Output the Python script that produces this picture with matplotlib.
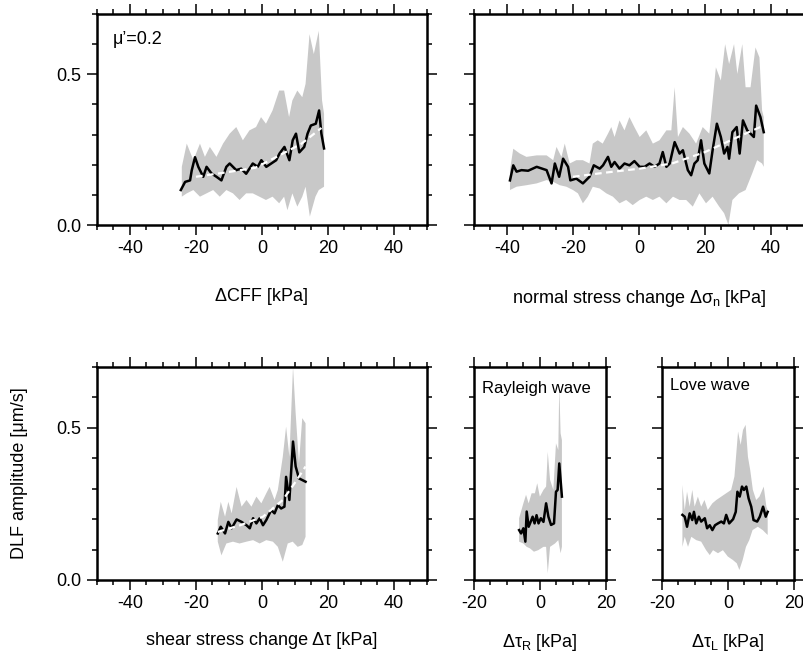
import numpy as np
import matplotlib
matplotlib.use("Agg")
import matplotlib.pyplot as plt
from matplotlib.ticker import MultipleLocator

plt.rcParams['font.family'] = ['Liberation Sans', 'DejaVu Sans']
plt.rcParams['font.size'] = 13
plt.rcParams['mathtext.fontset'] = 'custom'
plt.rcParams['mathtext.rm'] = 'Liberation Sans'
plt.rcParams['mathtext.it'] = 'Liberation Sans'

# ---- Delta CFF ----
cff_x = [-24.6, -23.3, -21.8, -21.3, -20.3, -19.3, -17.8, -16.8, -15.3, -13.8, -12.3, -10.8,
         -9.8, -7.8, -6.3, -4.8, -2.8, -1.3, -0.2, 1.3, 2.8, 4.3, 5.3, 6.8, 8.3, 9.3, 10.3,
         11.3, 12.8, 13.8, 14.8, 16.3, 17.3, 18.0, 18.8]
cff_y = [0.116, 0.143, 0.148, 0.181, 0.225, 0.193, 0.160, 0.193, 0.171, 0.160, 0.148, 0.193,
         0.204, 0.182, 0.187, 0.170, 0.204, 0.193, 0.215, 0.193, 0.204, 0.215, 0.237, 0.259,
         0.215, 0.281, 0.303, 0.241, 0.259, 0.303, 0.330, 0.336, 0.380, 0.303, 0.254]
cff_up_x = [-24.3, -22.8, -20.8, -18.8, -17.3, -15.8, -13.8, -11.8, -9.8, -7.8, -5.8, -3.8,
            -1.8, -0.3, 1.2, 3.2, 5.2, 6.7, 8.2, 9.2, 10.7, 12.2, 13.2, 14.4, 15.7, 17.2, 18.2, 18.8]
cff_up_y = [0.193, 0.270, 0.215, 0.270, 0.226, 0.259, 0.226, 0.270, 0.303, 0.325, 0.281, 0.314,
            0.325, 0.358, 0.336, 0.380, 0.446, 0.446, 0.358, 0.413, 0.446, 0.424, 0.468, 0.633,
            0.567, 0.644, 0.413, 0.369]
cff_lo_x = [-24.3, -22.8, -20.8, -18.8, -16.8, -14.8, -12.8, -10.8, -8.8, -6.8, -4.8, -2.8,
            -0.8, 1.2, 3.2, 5.2, 6.7, 7.7, 9.2, 10.7, 12.2, 13.2, 14.5, 16.2, 17.2, 18.8]
cff_lo_y = [0.094, 0.105, 0.116, 0.094, 0.105, 0.116, 0.094, 0.116, 0.105, 0.083, 0.105, 0.105,
            0.094, 0.083, 0.094, 0.072, 0.094, 0.049, 0.105, 0.061, 0.094, 0.127, 0.028, 0.094,
            0.116, 0.127]
cff_fit_x = [-20.0, -10.0, -2.0, 6.0, 12.0, 18.0]
cff_fit_y = [0.160, 0.176, 0.190, 0.235, 0.270, 0.322]

# ---- normal stress change ----
sn_x = [-39.1, -38.1, -37.1, -35.6, -33.6, -31.0, -28.0, -26.5, -25.5, -24.2, -23.0, -21.5,
        -20.8, -19.0, -17.0, -15.0, -13.7, -11.9, -10.9, -9.4, -8.4, -7.4, -5.9, -4.4, -2.9,
        -1.4, 0.2, 1.7, 3.2, 4.7, 6.2, 7.2, 8.3, 9.3, 10.8, 12.3, 13.3, 14.8, 15.8, 16.8,
        17.8, 18.8, 19.8, 21.3, 22.3, 23.6, 24.8, 25.8, 26.8, 27.3, 28.3, 29.6, 30.5, 31.5,
        32.8, 33.8, 34.8, 35.5, 36.8, 37.8]
sn_y = [0.148, 0.198, 0.177, 0.182, 0.180, 0.193, 0.182, 0.138, 0.204, 0.160, 0.220, 0.193,
        0.148, 0.154, 0.138, 0.160, 0.198, 0.187, 0.198, 0.226, 0.193, 0.209, 0.187, 0.204,
        0.198, 0.212, 0.193, 0.193, 0.204, 0.193, 0.204, 0.242, 0.193, 0.204, 0.275, 0.237,
        0.248, 0.182, 0.165, 0.204, 0.215, 0.281, 0.204, 0.171, 0.248, 0.336, 0.292, 0.237,
        0.259, 0.220, 0.308, 0.325, 0.237, 0.347, 0.314, 0.303, 0.292, 0.396, 0.358, 0.308]
sn_up_x = [-39.1, -38.1, -36.1, -34.1, -31.0, -28.0, -26.0, -25.0, -23.5, -22.5, -21.0, -19.0,
           -17.0, -15.0, -14.0, -12.5, -11.0, -9.4, -8.4, -7.4, -5.9, -4.4, -2.9, -1.4, 0.2,
           2.2, 4.2, 6.2, 8.3, 9.8, 10.8, 11.8, 13.3, 15.3, 17.3, 19.3, 21.3, 23.3, 24.8, 26.1,
           27.3, 28.8, 29.8, 31.3, 32.3, 33.8, 35.3, 36.5, 37.3, 37.8]
sn_up_y = [0.182, 0.253, 0.237, 0.226, 0.231, 0.231, 0.215, 0.259, 0.226, 0.270, 0.204, 0.215,
           0.215, 0.204, 0.270, 0.281, 0.270, 0.303, 0.325, 0.292, 0.347, 0.314, 0.358, 0.325,
           0.292, 0.314, 0.270, 0.281, 0.314, 0.314, 0.457, 0.292, 0.325, 0.303, 0.270, 0.325,
           0.303, 0.523, 0.479, 0.600, 0.534, 0.600, 0.501, 0.600, 0.457, 0.457, 0.589, 0.556,
           0.380, 0.358]
sn_lo_x = [-39.1, -37.1, -34.1, -31.0, -28.0, -26.0, -24.0, -22.0, -20.0, -18.5, -17.0, -15.5,
           -14.0, -11.9, -9.9, -7.9, -5.9, -3.9, -1.9, 0.2, 2.2, 4.2, 6.2, 8.3, 10.3, 12.3, 14.3,
           16.3, 18.3, 20.3, 22.3, 24.3, 25.8, 27.1, 28.3, 30.3, 32.3, 34.3, 35.8, 37.3, 37.8]
sn_lo_y = [0.116, 0.127, 0.132, 0.138, 0.149, 0.143, 0.132, 0.127, 0.116, 0.105, 0.072, 0.094,
           0.127, 0.121, 0.105, 0.094, 0.072, 0.083, 0.066, 0.083, 0.094, 0.083, 0.094, 0.072,
           0.094, 0.083, 0.083, 0.061, 0.105, 0.072, 0.094, 0.061, 0.039, 0.000, 0.083, 0.105,
           0.116, 0.171, 0.215, 0.204, 0.193]
sn_fit_x = [-20.0, -10.0, 0.2, 10.0, 20.0, 30.0, 37.8]
sn_fit_y = [0.160, 0.174, 0.187, 0.204, 0.242, 0.292, 0.330]

# ---- shear stress change ----
tau_x = [-13.4, -12.5, -11.2, -10.2, -9.2, -7.7, -6.2, -4.7, -3.7, -2.7, -1.7, -0.7, 0.3,
         1.3, 2.8, 3.8, 4.8, 5.8, 6.8, 7.3, 8.3, 9.4, 10.2, 11.2, 13.2]
tau_y = [0.153, 0.175, 0.153, 0.191, 0.170, 0.199, 0.191, 0.180, 0.170, 0.203, 0.186, 0.203,
         0.180, 0.197, 0.230, 0.219, 0.246, 0.235, 0.241, 0.339, 0.263, 0.455, 0.373, 0.334, 0.323]
tau_up_x = [-13.4, -12.5, -11.2, -10.2, -9.2, -7.7, -6.2, -4.7, -3.2, -1.7, -0.2, 1.3, 2.3,
            3.8, 4.8, 6.3, 7.3, 8.3, 9.4, 10.2, 11.2, 12.2, 13.2]
tau_up_y = [0.197, 0.257, 0.208, 0.257, 0.219, 0.306, 0.241, 0.263, 0.241, 0.274, 0.252, 0.285,
            0.306, 0.263, 0.296, 0.405, 0.504, 0.405, 0.700, 0.548, 0.383, 0.532, 0.515]
tau_lo_x = [-13.4, -12.3, -10.8, -8.8, -6.8, -4.7, -2.7, -0.7, 1.3, 3.3, 4.8, 6.3, 7.8, 9.3,
            10.8, 12.2, 13.2]
tau_lo_y = [0.126, 0.081, 0.120, 0.126, 0.120, 0.126, 0.131, 0.120, 0.131, 0.126, 0.109, 0.060,
            0.120, 0.126, 0.109, 0.115, 0.142]
tau_fit_x = [-13.4, -6.6, 0.3, 6.3, 10.2, 13.2]
tau_fit_y = [0.158, 0.180, 0.208, 0.263, 0.323, 0.373]

# ---- Rayleigh wave ----
tr_x = [-6.3, -5.7, -5.0, -4.4, -4.0, -3.4, -2.8, -2.2, -1.6, -1.0, -0.4, 0.3, 1.1, 1.9, 2.6,
        3.4, 4.3, 4.9, 5.4, 5.9, 6.7]
tr_y = [0.164, 0.153, 0.170, 0.126, 0.225, 0.175, 0.191, 0.208, 0.186, 0.213, 0.186, 0.203,
        0.191, 0.252, 0.208, 0.181, 0.186, 0.290, 0.296, 0.383, 0.274]
tr_up_x = [-6.3, -5.0, -4.2, -3.4, -2.5, -1.5, -0.8, 0.0, 1.1, 1.9, 2.4, 3.1, 4.1, 4.9, 5.6,
           5.9, 6.3, 6.7]
tr_up_y = [0.203, 0.252, 0.280, 0.252, 0.285, 0.285, 0.318, 0.274, 0.296, 0.307, 0.421, 0.329,
           0.296, 0.449, 0.427, 0.640, 0.482, 0.460]
tr_lo_x = [-6.3, -5.0, -4.0, -3.0, -1.8, -0.5, 1.1, 1.9, 2.4, 3.1, 4.6, 5.6, 6.3, 6.7]
tr_lo_y = [0.126, 0.120, 0.109, 0.104, 0.093, 0.098, 0.109, 0.109, 0.022, 0.109, 0.120, 0.131,
           0.088, 0.109]

# ---- Love wave ----
tl_x = [-13.8, -13.1, -12.4, -11.6, -10.8, -10.3, -9.6, -8.8, -8.1, -7.0, -6.3, -5.5, -4.7,
        -3.9, -3.0, -2.0, -1.2, -0.5, 0.4, 1.6, 2.4, 2.9, 3.6, 4.3, 4.9, 5.6, 6.3, 7.1, 7.8,
        8.9, 9.7, 10.7, 11.5, 12.1]
tl_y = [0.214, 0.208, 0.175, 0.219, 0.197, 0.224, 0.186, 0.208, 0.192, 0.203, 0.170, 0.180,
        0.164, 0.180, 0.186, 0.192, 0.186, 0.214, 0.186, 0.200, 0.224, 0.290, 0.274, 0.307,
        0.296, 0.307, 0.268, 0.241, 0.197, 0.192, 0.208, 0.241, 0.208, 0.224]
tl_up_x = [-13.8, -13.1, -12.4, -11.6, -10.8, -10.1, -9.1, -8.1, -7.1, -6.1, -4.7, -3.5, -2.0,
           -0.5, 1.0, 2.0, 3.1, 3.9, 4.6, 5.4, 6.1, 6.8, 7.6, 8.6, 9.6, 10.9, 11.7, 12.1]
tl_up_y = [0.312, 0.230, 0.290, 0.241, 0.296, 0.241, 0.274, 0.241, 0.263, 0.230, 0.252, 0.263,
           0.274, 0.285, 0.296, 0.340, 0.488, 0.444, 0.493, 0.510, 0.405, 0.361, 0.296, 0.263,
           0.274, 0.307, 0.241, 0.230]
tl_lo_x = [-13.8, -13.1, -12.1, -11.1, -9.6, -8.1, -6.6, -5.5, -4.5, -3.0, -1.5, 0.0, 1.5, 2.7,
           3.5, 4.5, 5.5, 6.5, 7.5, 9.1, 10.6, 11.6, 12.1]
tl_lo_y = [0.109, 0.142, 0.109, 0.142, 0.131, 0.126, 0.098, 0.082, 0.098, 0.088, 0.098, 0.077,
           0.066, 0.055, 0.033, 0.066, 0.109, 0.131, 0.164, 0.175, 0.164, 0.153, 0.148]

BAND = '#c8c8c8'


def style_axes(ax, xlim, xmajor, show_ylabels):
    ax.set_xlim(*xlim)
    ax.set_ylim(0, 0.7)
    ax.xaxis.set_major_locator(MultipleLocator(xmajor))
    ax.xaxis.set_minor_locator(MultipleLocator(5))
    ax.yaxis.set_major_locator(MultipleLocator(0.5))
    ax.yaxis.set_minor_locator(MultipleLocator(0.1))
    ax.tick_params(which='both', direction='out', top=True, right=True, width=1.1,
                   labelsize=13, pad=4)
    ax.tick_params(which='major', length=7)
    ax.tick_params(which='minor', length=3.5)
    ax.tick_params(axis='y', labelleft=show_ylabels)
    ax.xaxis.set_major_formatter(plt.FuncFormatter(lambda v, p: '%d' % v))
    ax.yaxis.set_major_formatter(plt.FuncFormatter(lambda v, p: '%.1f' % v))
    for s in ax.spines.values():
        s.set_linewidth(1.8)


def draw(ax, x, y, ux, uy, lx, ly, fx=None, fy=None):
    ax.fill(np.concatenate([ux, lx[::-1]]), np.concatenate([uy, ly[::-1]]),
            color=BAND, lw=0, zorder=1)
    ax.plot(x, y, color='black', lw=1.8, zorder=3)
    if fx is not None:
        ax.plot(fx, fy, color='white', lw=1.6, ls=(0, (3, 2)), zorder=4)


fig = plt.figure(figsize=(8.04, 6.56), dpi=100)
W, H = 804, 656


def add_ax(x0, y0, x1, y1):
    return fig.add_axes([x0 / W, 1 - y1 / H, (x1 - x0) / W, (y1 - y0) / H])


ax1 = add_ax(97, 14, 427, 225)
ax2 = add_ax(474, 14, 804, 225)
ax3 = add_ax(97, 367, 427, 580)
ax4 = add_ax(474, 367, 605.7, 580)
ax5 = add_ax(662, 367, 793.7, 580)

draw(ax1, cff_x, cff_y, np.array(cff_up_x), np.array(cff_up_y), np.array(cff_lo_x),
     np.array(cff_lo_y), cff_fit_x, cff_fit_y)
draw(ax2, sn_x, sn_y, np.array(sn_up_x), np.array(sn_up_y), np.array(sn_lo_x),
     np.array(sn_lo_y), sn_fit_x, sn_fit_y)
draw(ax3, tau_x, tau_y, np.array(tau_up_x), np.array(tau_up_y), np.array(tau_lo_x),
     np.array(tau_lo_y), tau_fit_x, tau_fit_y)
draw(ax4, tr_x, tr_y, np.array(tr_up_x), np.array(tr_up_y), np.array(tr_lo_x), np.array(tr_lo_y))
draw(ax5, tl_x, tl_y, np.array(tl_up_x), np.array(tl_up_y), np.array(tl_lo_x), np.array(tl_lo_y))

style_axes(ax1, (-50, 50), 20, True)
style_axes(ax2, (-50, 50), 20, False)
style_axes(ax3, (-50, 50), 20, True)
style_axes(ax4, (-20, 20), 20, False)
style_axes(ax5, (-20, 20), 20, False)
ax2.spines['right'].set_visible(False)

ax1.set_xlabel('ΔCFF [kPa]', fontsize=13, labelpad=22)
ax2.set_xlabel('normal stress change Δσ$_\\mathrm{n}$ [kPa]', fontsize=13, labelpad=22)
ax3.set_xlabel('shear stress change Δτ [kPa]', fontsize=13, labelpad=14)
ax4.set_xlabel('Δτ$_\\mathrm{R}$ [kPa]', fontsize=13, labelpad=14)
ax5.set_xlabel('Δτ$_\\mathrm{L}$ [kPa]', fontsize=13, labelpad=14)

ax1.text(0.048, 0.877, 'μ’=0.2', transform=ax1.transAxes, ha='left', va='center', fontsize=13)
ax4.text(0.058, 0.90, 'Rayleigh wave', transform=ax4.transAxes, ha='left', va='center',
         fontsize=12)
ax5.text(0.06, 0.915, 'Love wave', transform=ax5.transAxes, ha='left', va='center', fontsize=12)

fig.text(20 / W, 1 - 473 / H, 'DLF amplitude [μm/s]', rotation=90, ha='center', va='center',
         fontsize=13)

fig.savefig('out.png', dpi=100)
